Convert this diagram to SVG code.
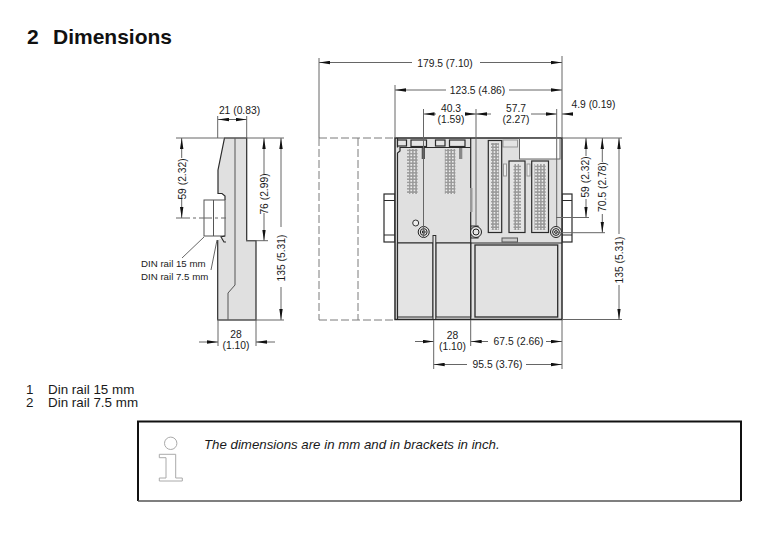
<svg xmlns="http://www.w3.org/2000/svg" width="771" height="536" viewBox="0 0 771 536">
<style>
text{font-family:"Liberation Sans",Arial,sans-serif;fill:#1a1a1a}
.t{font-size:10.3px;text-anchor:middle}
.h{font-size:21px;font-weight:bold;fill:#111}
.b{font-size:13.4px}
.o{fill:none;stroke:#2a2a2a;stroke-width:1.2}
.f{fill:#e0e0e0;stroke:#2a2a2a;stroke-width:1.5}
.p{fill:#e4e4e4;stroke:#2a2a2a;stroke-width:1.2}
.d{fill:none;stroke:#666;stroke-width:1}
.a{fill:none;stroke:#666;stroke-width:1;marker-end:url(#ah)}
.dash{fill:none;stroke:#7a7a7a;stroke-width:1;stroke-dasharray:8 3}
</style>
<defs>
<marker id="ah" viewBox="0 0 11 4" refX="11" refY="2" markerWidth="11" markerHeight="4" markerUnits="userSpaceOnUse" orient="auto"><path d="M0 0.3L11 2L0 3.7z" fill="#111" stroke="none"/></marker>
<pattern id="pins" width="3.2" height="3.2" patternUnits="userSpaceOnUse"><rect width="3.2" height="3.2" fill="#999"/><rect x="0.8" y="0.8" width="1.7" height="1.7" fill="#eee"/></pattern>
</defs>
<g id="title"><text class="h" x="27" y="44">2</text><text class="h" x="53" y="44">Dimensions</text></g>

<g id="side-view">
<path d="M224 138H246.7V240.700H256V320H218V240L225 237V196L223 193.500H218V170Z" fill="#e0e0e0" stroke="none"/>
<path class="o" d="M217.700 320H256V240.700H246.700V138H224.500L218 170V193.500H222L225 196V200"/>
<path class="o" d="M217.700 320V240"/>
<path d="M235 138V285L228 293V320" fill="none" stroke="#555" stroke-width="1"/>
<rect x="204" y="200" width="21" height="36" fill="#fff" stroke="#555" stroke-width="1"/>
<path d="M213.500 200V236" fill="none" stroke="#555"/>
<path class="o" d="M225 236L221 237L224 242H226"/>
<path class="d" d="M176 218H190M193 218H196M199 218H212M215 218H218M221 218H226"/>
</g>

<g id="din-labels">
<text x="141" y="267" style="font-size:9.700px">DIN rail 15 mm</text>
<text x="141" y="280" style="font-size:9.700px">DIN rail 7.5 mm</text>
</g>

<g id="front-view">
<path class="dash" d="M319 138H395M319 320H395M319 138V320M358 138V320"/>
<rect x="384" y="194" width="11" height="48" fill="#fff" stroke="#2a2a2a" stroke-width="1.200"/>
<path class="o" d="M384 200.500H395M384 235H395"/>
<rect x="562" y="194" width="10" height="48" fill="#fff" stroke="#2a2a2a" stroke-width="1.200"/>
<path class="o" d="M562 200.500H572M562 235H572"/>
<rect class="f" x="395" y="138" width="167" height="181.500"/>
<path class="o" d="M397.500 319V153L400 151V147.500H470.700M397.500 138V147.500"/>
<path class="o" d="M397.500 243H562"/>
<path class="o" d="M470.700 138V319"/>
<rect x="470" y="188" width="2.500" height="24" fill="#999"/>
<g id="module-top">
<rect class="p" x="397.500" y="140" width="9" height="6"/>
<rect class="p" x="411" y="140" width="15.500" height="6.500"/>
<rect class="p" x="435.500" y="140" width="9.500" height="6"/>
<rect class="p" x="449.500" y="140" width="15.500" height="6.500"/>
<rect x="407" y="149" width="10.600" height="45" fill="url(#pins)"/>
<rect x="444.800" y="149" width="10.600" height="45" fill="url(#pins)"/>
<rect x="421.700" y="148" width="3.300" height="11" fill="#555"/>
<rect x="459" y="148" width="3.300" height="11" fill="#888"/>
<circle cx="415.700" cy="223" r="3" fill="#eee" stroke="#333"/>
<circle cx="423.700" cy="232" r="5.500" fill="#e6e6e6" stroke="#222"/>
<circle cx="423.700" cy="232" r="3.400" fill="none" stroke="#222"/>
<circle cx="423.700" cy="232" r="1.400" fill="none" stroke="#222"/>
</g>
<g id="module-connectors">
<rect x="503" y="140" width="14.500" height="7" fill="#e4e4e4" stroke="#999"/>
<rect x="519.500" y="138.500" width="40.500" height="20.500" fill="#fff" stroke="#666"/>
<rect x="503.500" y="164" width="3" height="12" fill="#eee" stroke="#999"/>
<rect x="527" y="164" width="3" height="12" fill="#eee" stroke="#999"/>
<rect class="p" x="488.300" y="140.500" width="13.400" height="92"/>
<rect x="491" y="143" width="8" height="87" fill="url(#pins)"/>
<rect class="p" x="509" y="161" width="16" height="71.500"/>
<rect x="513.500" y="164" width="7.500" height="66" fill="url(#pins)"/>
<rect class="p" x="531.700" y="161" width="16.800" height="71.500"/>
<rect x="534.500" y="164" width="11.200" height="66" fill="url(#pins)"/>
<rect x="502" y="238" width="15.500" height="4" fill="#ccc" stroke="#555"/>
<rect x="471" y="226" width="7" height="12" fill="#e6e6e6" stroke="#2a2a2a"/>
<circle cx="476" cy="232" r="5.500" fill="#e6e6e6" stroke="#222"/>
<circle cx="476" cy="232" r="3" fill="none" stroke="#222"/>
<circle cx="556" cy="232" r="5.500" fill="#e6e6e6" stroke="#222"/>
<circle cx="556" cy="232" r="3.400" fill="none" stroke="#222"/>
<circle cx="556" cy="232" r="1.400" fill="none" stroke="#222"/>
</g>
<path class="p" d="M397.500 243H433V317H397.500Z"/>
<path class="p" d="M435.800 243H470.700V317H435.800Z"/>
<rect x="433" y="235.500" width="2.800" height="84" fill="#e6e6e6" stroke="#2a2a2a"/>
<rect x="475" y="245" width="82.700" height="72" fill="#e2e2e2" stroke="#2a2a2a" stroke-width="1.300"/>
</g>

<g id="connectors">
<path class="d" d="M217.700 116V138M246.700 116V138M176 138H284M246 240.700H268M217 320H284M218 320V346M256 320V346"/>
<path class="a" d="M232 119.500H218"/><path class="a" d="M232 119.500H246.700"/>
<path class="a" d="M181.700 158V138"/><path class="a" d="M181.700 198V218"/>
<path class="a" d="M264 175V138"/><path class="a" d="M264 213V240.700"/>
<path class="a" d="M281 227V138"/><path class="a" d="M281 287V320"/>
<path class="a" d="M199 342H218"/><path class="a" d="M275 342H256"/>
<path class="d" d="M204 237L182 258M217 240L211 270"/>

<path class="d" d="M319 58V138M395 85V138M562 56V138M423.500 109V238M476 109V226M556.700 109V226"/>
<path class="a" d="M412 62.500H319"/><path class="a" d="M480 62.500H562"/>
<path class="a" d="M446 90H395"/><path class="a" d="M509 90H562"/>
<path class="a" d="M436 114H423.500"/><path class="a" d="M466 114H476"/>
<path class="a" d="M491 114H476"/><path class="a" d="M531 114H556.700"/>
<path class="a" d="M571 114H562"/>
<path class="d" d="M562 138H622M556 217.500H589M556 232.700H605M562 319.500H622"/>
<path class="a" d="M586 156V138"/><path class="a" d="M586 199V217.500"/>
<path class="a" d="M602.300 162V138"/><path class="a" d="M602.300 214V232.700"/>
<path class="a" d="M619 234V138"/><path class="a" d="M619 285V319.500"/>
<path class="d" d="M433.700 320V369M470.700 320V346M562 320V369"/>
<path class="a" d="M415 341.500H433.700"/><path class="a" d="M488 341.500H470.700"/><path class="a" d="M546 341.500H562"/>
<path class="a" d="M467 364.500H433.700"/><path class="a" d="M526 364.500H562"/>
</g>

<g id="dimension-labels">
<text class="t" x="239.500" y="114">21 (0.83)</text>
<text class="t" transform="translate(185.500 179) rotate(-90)">59 (2.32)</text>
<text class="t" transform="translate(267.500 194) rotate(-90)">76 (2.99)</text>
<text class="t" transform="translate(285 258) rotate(-90)">135 (5.31)</text>
<text class="t" x="236" y="338">28</text><text class="t" x="236" y="349">(1.10)</text>
<text class="t" x="445" y="66.500">179.5 (7.10)</text>
<text class="t" x="477.500" y="93.500">123.5 (4.86)</text>
<text class="t" x="451" y="112">40.3</text><text class="t" x="451" y="123">(1.59)</text>
<text class="t" x="516" y="112">57.7</text><text class="t" x="516" y="123">(2.27)</text>
<text class="t" x="593.500" y="108">4.9 (0.19)</text>
<text class="t" transform="translate(589 177) rotate(-90)">59 (2.32)</text>
<text class="t" transform="translate(606 187) rotate(-90)">70.5 (2.78)</text>
<text class="t" transform="translate(623 260) rotate(-90)">135 (5.31)</text>
<text class="t" x="452.500" y="339">28</text><text class="t" x="452.500" y="350">(1.10)</text>
<text class="t" x="518.500" y="345">67.5 (2.66)</text>
<text class="t" x="497.500" y="368">95.5 (3.76)</text>
</g>

<g id="legend">
<text class="b" x="26" y="393.500">1</text><text class="b" x="48" y="393.500">Din rail 15 mm</text>
<text class="b" x="26" y="407">2</text><text class="b" x="48" y="407">Din rail 7.5 mm</text>
</g>

<g id="note">
<path d="M138 501V421.500H741V501" fill="none" stroke="#111" stroke-width="2"/>
<path d="M138 501H741" fill="none" stroke="#555" stroke-width="1.500"/>
<circle cx="170.700" cy="443.300" r="6.200" fill="#fff" stroke="#aaa"/>
<path d="M159.300 454.300H175.700V478H182.300V481H159.300V478H166V457.700H159.300Z" fill="#fff" stroke="#aaa"/>
<text x="204" y="449" style="font-size:13.270px;font-style:italic">The dimensions are in mm and in brackets in inch.</text>
</g>
</svg>
